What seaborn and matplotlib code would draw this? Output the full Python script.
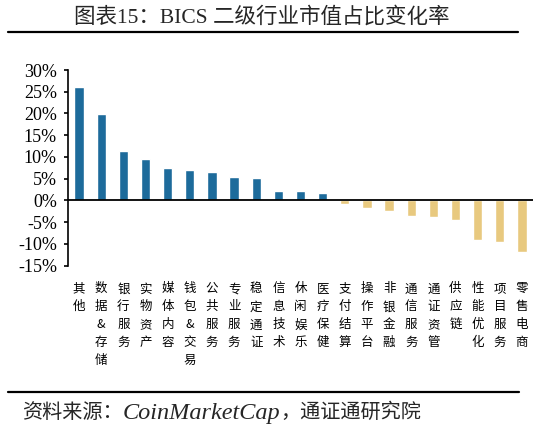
import matplotlib
matplotlib.use("Agg")
import matplotlib.pyplot as plt
import matplotlib.ticker as mticker
from matplotlib.lines import Line2D
from matplotlib.transforms import offset_copy
import seaborn as sns
import pandas as pd

# BICS level-2 sector market-cap share change (%)
sectors = [
    "其他", "数据&存储", "银行服务", "实物资产", "媒体内容", "钱包&交易",
    "公共服务", "专业服务", "稳定通证", "信息技术", "休闲娱乐", "医疗保健",
    "支付结算", "操作平台", "非银金融", "通信服务", "通证资管", "供应链",
    "性能优化", "项目服务", "零售电商",
]
change_pct = [
    26.0, 19.8, 11.3, 9.6, 7.5, 6.9,
    6.5, 5.5, 5.2, 2.2, 2.1, 1.8,
    -0.8, -1.8, -2.5, -3.6, -3.9, -4.6,
    -9.1, -9.5, -11.8,
]
y_ticks = [-15, -10, -5, 0, 5, 10, 15, 20, 25, 30]

title_text = "图表15：BICS 二级行业市值占比变化率"
# source line pieces: (text, font size) — Latin part is set larger
source_parts = [("资料来源：", 14.5), ("CoinMarketCap", 17.5), ("，通证通研究院", 14.5)]

BLUE = "#1d6b9b"
GOLD = "#e8c97f"

sns.set_theme(style="white")
plt.rcParams["font.family"] = ["Liberation Serif", "Noto Sans CJK SC", "DejaVu Sans"]
plt.rcParams["axes.unicode_minus"] = False

df = pd.DataFrame({
    "sector": ["\n".join(s) for s in sectors],
    "change": change_pct,
})
palette = {lab: (BLUE if v >= 0 else GOLD) for lab, v in zip(df["sector"], df["change"])}

fig = plt.figure(figsize=(5.6, 4.3), dpi=100)
ax = fig.add_axes([68 / 560, 1 - 265.7 / 430, (533 - 68) / 560, (265.7 - 70) / 430])

sns.barplot(data=df, x="sector", y="change", hue="sector", palette=palette,
            legend=False, width=0.42, saturation=1, ax=ax)

ax.set_ylim(-15, 30)
ax.set_xlim(-0.5, len(sectors) - 0.5)
ax.set_yticks(y_ticks)
ax.yaxis.set_major_formatter(mticker.FuncFormatter(lambda v, _: f"{v:.0f}%"))
ax.axhline(0, color="black", lw=1.3, zorder=3)

for side in ("top", "right", "bottom"):
    ax.spines[side].set_visible(False)
ax.spines["left"].set_color("black")
ax.spines["left"].set_linewidth(1.2)

ax.tick_params(axis="y", which="both", left=True, direction="out", length=3,
               width=1.2, color="black", labelsize=13, labelcolor="black", pad=5)
ax.tick_params(axis="x", bottom=False, pad=6, labelsize=9, labelcolor="black")
for lbl in ax.get_xticklabels():
    lbl.set_fontfamily(["Noto Sans CJK SC", "DejaVu Sans"])
    lbl.set_linespacing(1.5)
    lbl.set_verticalalignment("top")
ax.set_xlabel("")
ax.set_ylabel("")

# header and footer
fig.text(262 / 560, 1 - 17 / 430, title_text, ha="center", va="center",
         fontsize=15.5, fontweight="medium",
         family=["Liberation Serif", "Noto Sans CJK SC"])
fig.add_artist(Line2D([8 / 560, 518 / 560], [1 - 32 / 430] * 2, color="black", lw=1.6))
fig.add_artist(Line2D([8 / 560, 519 / 560], [1 - 392 / 430] * 2, color="black", lw=1.6))

renderer = fig.canvas.get_renderer()
x_px = 22.0
for txt, size in source_parts:
    t = fig.text(0, 1 - 411 / 430, txt, ha="left", va="center_baseline",
                 fontsize=size, style="italic",
                 family=["Liberation Serif", "Noto Sans CJK SC"],
                 transform=offset_copy(fig.transFigure, fig=fig, x=x_px, y=0, units="dots"))
    x_px += t.get_window_extent(renderer).width

fig.savefig("out.png", dpi=100)
